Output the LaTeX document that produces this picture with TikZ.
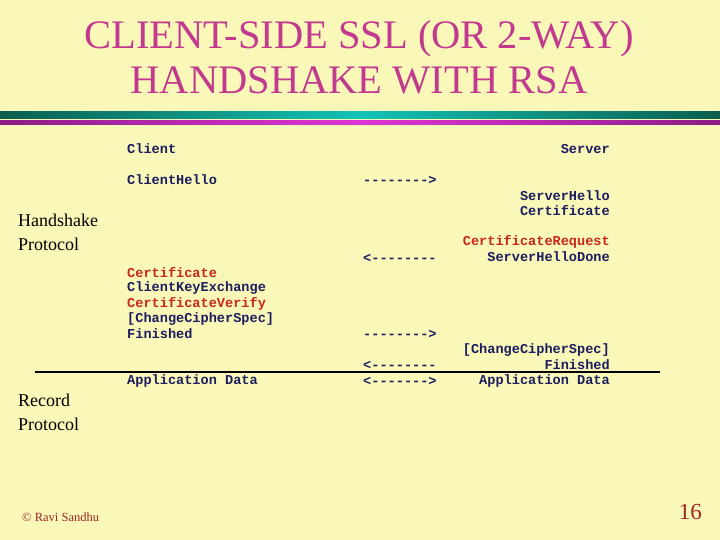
\documentclass[tikz,border=0pt]{standalone}
\usepackage{fontspec}
\setmainfont{Liberation Serif}
\newfontfamily\codefont{Liberation Mono}
\usetikzlibrary{positioning}
\definecolor{slidebg}{HTML}{FAF8B9}
\definecolor{titlepink}{HTML}{C23A90}
\definecolor{msgnavy}{HTML}{1C1C60}
\definecolor{msgred}{HTML}{C8281C}
\definecolor{footred}{HTML}{A02222}
\definecolor{bandteal}{HTML}{0C5E4E}
\definecolor{bandcyan}{HTML}{12C2B6}
\definecolor{bandplum}{HTML}{8E1C86}
\definecolor{bandpink}{HTML}{E034D4}

\begin{document}
\begin{tikzpicture}[
        x=1pt, y=-1pt,
        msg/.style={inner sep=0pt, text=msgnavy, font=\codefont\bfseries\fontsize{13.6}{15}\selectfont},
        req/.style={msg, text=msgred},
        flow/.style={msg, anchor=west},
        side/.style={inner sep=0pt, anchor=west, align=left, font=\fontsize{18}{24}\selectfont}
    ]
        \fill[slidebg] (0,0) rectangle (720,540);
        \useasboundingbox (0,0) rectangle (720,540);

        % title and bands
        \node[text=titlepink, align=center, font=\fontsize{40.5}{45}\selectfont] (title) at (359,57) {CLIENT-SIDE SSL (OR 2-WAY)\\HANDSHAKE WITH RSA};
        \shade[left color=bandteal, right color=bandteal, middle color=bandcyan] (0,112) rectangle (720,119);
        \shade[left color=bandplum, right color=bandplum, middle color=bandpink] (0,121) rectangle (720,125);

        % side labels
        \node[side] (hs) at (18,232) {Handshake\\Protocol};
        \node[side] (rec) at (18,412) {Record\\Protocol};

        % client column
        \node[msg, anchor=west] (cli) at (127,149) {Client};
        \node[msg, anchor=west] (chello) at (127,180) {ClientHello};
        \node[req, anchor=west] (ccert) at (127,273) {Certificate};
        \node[msg, anchor=west] (ckx) at (127,288) {ClientKeyExchange};
        \node[req, anchor=west] (cverify) at (127,304) {CertificateVerify};
        \node[msg, anchor=west] (cccs) at (127,319) {[ChangeCipherSpec]};
        \node[msg, anchor=west] (cfin) at (127,334) {Finished};
        \node[msg, anchor=west] (capp) at (127,381) {Application Data};

        % arrows in the middle
        \node[flow] (f1) at (363,180) {-------->};
        \node[flow] (f2) at (363,258) {<--------};
        \node[flow] (f3) at (363,334) {-------->};
        \node[flow] (f4) at (363,365) {<--------};
        \node[flow] (f5) at (363,381) {<------->};

        % server column
        \node[msg, anchor=east] (srv) at (610,149) {Server};
        \node[msg, anchor=east] (shello) at (610,196) {ServerHello};
        \node[msg, anchor=east] (scert) at (610,211) {Certificate};
        \node[req, anchor=east] (sreq) at (610,242) {CertificateRequest};
        \node[msg, anchor=east] (sdone) at (610,257) {ServerHelloDone};
        \node[msg, anchor=east] (sccs) at (610,350) {[ChangeCipherSpec]};
        \node[msg, anchor=east] (sfin) at (610,365) {Finished};
        \node[msg, anchor=east] (sapp) at (610,381) {Application Data};

        % split between handshake and record
        \coordinate (splitl) at (35,371.5);
        \coordinate (splitr) at (660,371.5);
        \draw[line width=2pt] (splitl) -- (splitr);

        % footer
        \node[anchor=west, text=footred, inner sep=0pt, font=\fontsize{12.5}{14}\selectfont] (copy) at (22,517) {© Ravi Sandhu};
        \node[anchor=east, text=footred, inner sep=0pt, font=\fontsize{23}{26}\selectfont] (page) at (702,512) {16};
    \end{tikzpicture}
\end{document}
